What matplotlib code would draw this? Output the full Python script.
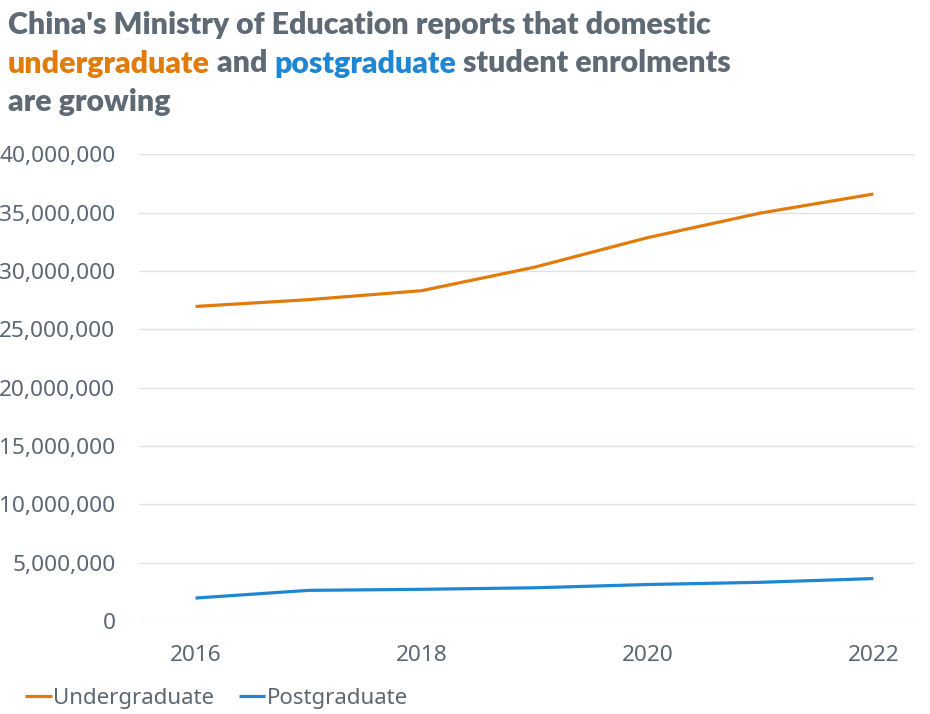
import numpy as np
import matplotlib
matplotlib.use("Agg")
import matplotlib.pyplot as plt
from matplotlib.ticker import FuncFormatter

# data
years = [2016, 2017, 2018, 2019, 2020, 2021, 2022]
undergraduate = [26960000, 27540000, 28310000, 30320000, 32850000, 34960000, 36590000]
postgraduate = [1980000, 2640000, 2730000, 2860000, 3140000, 3330000, 3650000]

x_ticks = [2016, 2018, 2020, 2022]
y_ticks = [0, 5000000, 10000000, 15000000, 20000000, 25000000, 30000000, 35000000, 40000000]

ORANGE = "#e07b0c"
BLUE = "#1f87d2"
GREY = "#5c6772"
TITLE_GREY = "#5f6a75"
GRID = "#dfe2e6"

plt.rcParams['font.family'] = ['Noto Sans', 'DejaVu Sans']

fig = plt.figure(figsize=(9.3, 7.14), dpi=100)
ax = fig.add_axes([0.1495, 0.130, 0.8345, 0.654])

ax.plot(years, undergraduate, color=ORANGE, lw=2.3, label="Undergraduate", solid_capstyle="butt")
ax.plot(years, postgraduate, color=BLUE, lw=2.3, label="Postgraduate", solid_capstyle="butt")

ax.set_xlim(2015.5, 2022.37)
ax.set_ylim(0, 40000000)
ax.set_xticks(x_ticks)
ax.set_yticks(y_ticks)
ax.yaxis.set_major_formatter(FuncFormatter(lambda v, p: f"{int(v):,}"))
ax.tick_params(axis="both", length=0, labelsize=16.3, labelcolor=GREY)
ax.tick_params(axis="y", pad=17)
ax.tick_params(axis="x", pad=17)
ax.grid(axis="y", color=GRID, lw=1)
ax.set_axisbelow(True)
for s in ax.spines.values():
    s.set_visible(False)

leg = fig.legend(loc="lower left", bbox_to_anchor=(0.013, -0.012), ncol=2, frameon=False,
                 fontsize=16, handlelength=1.2, handletextpad=0.05, columnspacing=1.1,
                 borderaxespad=0.2)
for t in leg.get_texts():
    t.set_color(GREY)

# title with coloured words
title_lines = [
    [("China's Ministry of Education reports that domestic", TITLE_GREY)],
    [("undergraduate", ORANGE), (" and ", TITLE_GREY), ("postgraduate", BLUE),
     (" student enrolments", TITLE_GREY)],
    [("are growing", TITLE_GREY)],
]
fig.canvas.draw()
renderer = fig.canvas.get_renderer()
y0 = 714 - 34
for i, line in enumerate(title_lines):
    x = 8
    y = y0 - i * 38.5
    for txt, col in line:
        t = fig.text(x / 930, y / 714, txt, color=col, fontsize=21.8, fontweight="heavy",
                     family=["Lato", "DejaVu Sans"], va="baseline", ha="left")
        bb = t.get_window_extent(renderer)
        x += bb.width

fig.savefig("out.png", dpi=100)
